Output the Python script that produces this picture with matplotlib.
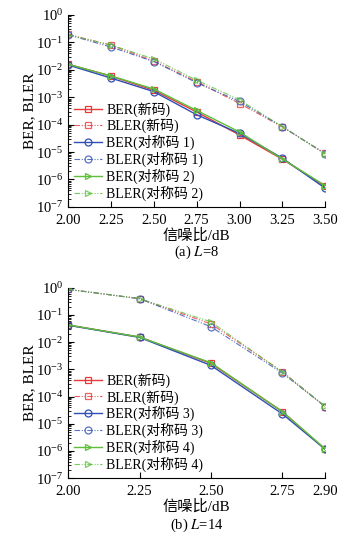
import matplotlib
matplotlib.use("Agg")
import matplotlib.pyplot as plt
from matplotlib.ticker import LogLocator, NullFormatter

plt.rcParams["font.family"] = ["Liberation Serif", "Noto Sans CJK SC"]
plt.rcParams["mathtext.fontset"] = "stix"

# (a) L=8
snr_a = [2.00, 2.25, 2.50, 2.75, 3.00, 3.25, 3.50]
ber_new_a = [1.6e-2, 5.9e-3, 1.8e-3, 2.9e-4, 4.2e-5, 5.5e-6, 5.6e-7]
bler_new_a = [0.195, 0.080, 2.1e-2, 3.7e-3, 5.9e-4, 8.3e-5, 9.0e-6]
ber_s1_a = [1.5e-2, 5.0e-3, 1.6e-3, 2.3e-4, 4.8e-5, 6.0e-6, 4.8e-7]
bler_s1_a = [0.19, 0.068, 2.0e-2, 3.4e-3, 7.0e-4, 8.5e-5, 8.5e-6]
ber_s2_a = [1.6e-2, 6.0e-3, 2.0e-3, 3.3e-4, 5.4e-5, 5.6e-6, 6.0e-7]
bler_s2_a = [0.19, 0.080, 2.5e-2, 4.2e-3, 8.0e-4, 8.5e-5, 8.5e-6]

# (b) L=14
snr_b = [2.00, 2.25, 2.50, 2.75, 2.90]
ber_new_b = [4.3e-2, 1.55e-2, 1.66e-3, 2.8e-5, 1.15e-6]
bler_new_b = [0.88, 0.40, 4.7e-2, 8.3e-4, 4.2e-5]
ber_s3_b = [4.2e-2, 1.5e-2, 1.4e-3, 2.3e-5, 1.15e-6]
bler_s3_b = [0.88, 0.40, 3.7e-2, 7.3e-4, 4.3e-5]
ber_s4_b = [4.3e-2, 1.55e-2, 1.75e-3, 2.8e-5, 1.2e-6]
bler_s4_b = [0.88, 0.40, 5.6e-2, 8.0e-4, 4.4e-5]

RED, BLUE, GREEN = "#e8383a", "#2f4fb5", "#5cbf3c"
DASH = (0, (5, 1.5, 1, 1.5, 1, 1.5))


def panel(ax, x, series, xticks, caption, cap_y):
    for y, lab, c, m, ls in series:
        ax.plot(x, y, color=c, marker=m, ls="-" if ls == "s" else DASH,
                lw=1.0 if ls == "s" else 0.8, ms=5, mfc="none", mew=0.9,
                alpha=1.0 if ls == "s" else 0.8, label=lab)
    ax.set_yscale("log")
    ax.set_ylim(1e-7, 1)
    ax.set_xlim(xticks[0], xticks[-1])
    ax.set_xticks(xticks)
    ax.set_xticklabels([f"{t:.2f}" for t in xticks])
    ax.yaxis.set_major_locator(LogLocator(base=10, numticks=10))
    ax.yaxis.set_minor_locator(LogLocator(base=10, subs=range(2, 10), numticks=20))
    ax.yaxis.set_minor_formatter(NullFormatter())
    ax.tick_params(direction="in", labelsize=10.5, length=4, width=0.8)
    ax.tick_params(axis="x", pad=5)
    ax.tick_params(which="minor", direction="in", length=2, width=0.6)
    for s in ("top", "right"):
        ax.spines[s].set_visible(False)
    ax.set_ylabel("BER, BLER", fontsize=11, labelpad=0)
    ax.set_xlabel("信噪比/dB", fontsize=11, labelpad=1)
    ax.legend(loc="lower left", frameon=False, fontsize=10, handlelength=2.0,
              labelspacing=0.12, borderaxespad=0.05, handletextpad=0.3)
    ax.text(0.5, cap_y, caption, transform=ax.transAxes, ha="center", va="top",
            fontsize=10.5)


fig = plt.figure(figsize=(3.55, 5.36), dpi=100)
ax1 = fig.add_axes([0.192, 0.614, 0.724, 0.358])
ax2 = fig.add_axes([0.192, 0.108, 0.724, 0.355])

panel(ax1, snr_a, [
    (ber_new_a, "BER(新码)", RED, "s", "s"),
    (bler_new_a, "BLER(新码)", RED, "s", "d"),
    (ber_s1_a, "BER(对称码 1)", BLUE, "o", "s"),
    (bler_s1_a, "BLER(对称码 1)", BLUE, "o", "d"),
    (ber_s2_a, "BER(对称码 2)", GREEN, ">", "s"),
    (bler_s2_a, "BLER(对称码 2)", GREEN, ">", "d"),
], [2.00, 2.25, 2.50, 2.75, 3.00, 3.25, 3.50], "(a) $\\mathit{L}$=8", -0.19)

panel(ax2, snr_b, [
    (ber_new_b, "BER(新码)", RED, "s", "s"),
    (bler_new_b, "BLER(新码)", RED, "s", "d"),
    (ber_s3_b, "BER(对称码 3)", BLUE, "o", "s"),
    (bler_s3_b, "BLER(对称码 3)", BLUE, "o", "d"),
    (ber_s4_b, "BER(对称码 4)", GREEN, ">", "s"),
    (bler_s4_b, "BLER(对称码 4)", GREEN, ">", "d"),
], [2.00, 2.25, 2.50, 2.75, 2.90], "(b) $\\mathit{L}$=14", -0.2)

fig.savefig("out.png", dpi=100)
